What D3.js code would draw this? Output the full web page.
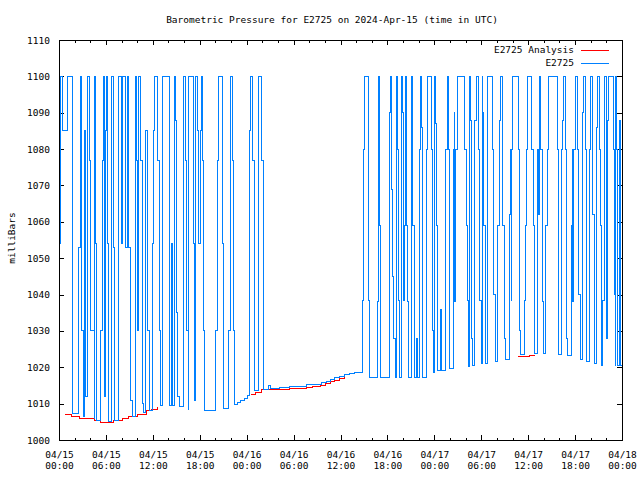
<!DOCTYPE html>
<html>
<head>
<meta charset="utf-8">
<script src="https://cdn.jsdelivr.net/npm/d3@7"></script>
<style>
  html, body { margin: 0; padding: 0; background: #fff; }
  svg { display: block; }
  text { font-family: "DejaVu Sans Mono", "Liberation Mono", monospace; font-size: 9.5px; fill: #000; }
</style>
</head>
<body>
<svg id="chart" width="640" height="480"></svg>
<script>
// ---------------- data (hours since 2024-04-15 00:00 UTC) ----------------
const seriesNames = ["E2725 Analysis", "E2725"];
const yTickValues = [1000, 1010, 1020, 1030, 1040, 1050, 1060, 1070, 1080, 1090, 1100, 1110];

const obsHours = [
  0.00, 0.04, 0.13, 0.43, 1.15, 1.71, 2.47, 2.69, 2.90, 3.07, 3.20, 3.41, 3.62, 3.96, 4.09, 4.48, 4.56, 4.69, 4.82,
  5.33, 5.54, 5.67, 5.80, 5.97, 6.05, 6.22, 6.39, 6.73, 6.95, 7.16, 7.59, 7.67, 7.93, 8.14, 8.53, 8.74, 8.95, 9.16,
  9.38, 9.72, 9.89, 10.06, 10.23, 10.44, 10.66, 10.87, 11.08, 11.30, 11.51, 11.94, 12.06, 12.23, 12.57, 12.79, 13.00,
  13.21, 14.07, 14.37, 14.49, 14.71, 14.92, 15.05, 15.17, 15.35, 15.90, 16.20, 16.33, 16.50, 16.62, 17.26, 17.39,
  17.48, 17.69, 17.90, 18.12, 18.24, 18.41, 18.54, 18.67, 20.03, 20.25, 20.38, 20.89, 21.10, 21.74, 21.95, 22.17,
  22.29, 22.46, 22.81, 23.23, 23.66, 24.08, 24.30, 24.42, 24.51, 24.72, 24.94, 25.06, 25.45, 25.92, 26.09,
  26.79, 27.11, 28.26, 29.54, 30.82, 31.71, 32.48, 33.63, 34.27, 34.78, 35.29, 35.81, 36.45, 37.21, 37.85,
  38.75, 38.92, 39.07, 39.52, 39.61, 39.68, 40.67, 40.84, 40.92, 41.01, 41.12, 42.27, 42.40, 42.55, 42.68, 42.84,
  42.97, 43.10, 43.18, 43.27, 43.39, 43.55, 43.76, 43.83, 43.93, 44.03, 44.16, 44.25, 44.38, 44.54, 44.67, 45.06,
  45.14, 45.27, 45.40, 45.66, 45.82, 46.10, 46.23, 46.33, 46.46, 46.55, 47.00, 47.13, 47.66, 47.77, 47.87, 48.00,
  48.12, 48.25, 48.37, 48.85, 48.98, 49.49, 49.62, 49.75, 49.88, 50.00, 50.39, 50.52, 50.64, 50.77, 50.90, 51.92,
  52.05, 52.18, 52.31, 52.47, 52.65, 52.75, 52.88, 53.20, 53.33, 53.71, 53.84, 53.97, 54.10, 54.22, 54.35, 54.48,
  54.74, 54.80, 55.50, 55.63, 55.76, 56.14, 56.27, 56.40, 56.66, 56.78, 56.91, 57.04, 57.55, 57.68, 57.81, 57.93,
  58.06, 58.70, 58.83, 58.96, 59.47, 59.60, 59.79, 59.92, 60.49, 60.62, 60.75, 61.13, 61.26, 61.39, 61.51, 61.64,
  61.77, 61.90, 62.28, 62.41, 62.54, 63.69, 63.82, 63.94, 64.20, 64.33, 64.46, 64.78, 64.90, 65.03, 65.48, 65.61,
  65.73, 65.86, 65.99, 66.37, 66.50, 66.63, 66.89, 67.01, 67.14, 67.27, 67.40, 67.78, 67.91, 68.17, 68.29, 68.42,
  68.68, 68.81, 69.12, 69.25, 69.38, 69.57, 69.70, 69.96, 70.08, 70.17, 70.28, 70.85, 70.98, 71.11, 71.17, 71.36,
  71.45, 71.68, 71.81, 72.00
];
const obsValues = [
  1007.4, 1054, 1100, 1085, 1100, 1007.2, 1053, 1100, 1030, 1006.5, 1085, 1012, 1100, 1077, 1030, 1005.8, 1100, 1054, 1005.5,
  1030, 1077, 1100, 1012, 1085, 1100, 1054, 1005, 1100, 1053, 1005.5, 1054, 1100, 1054, 1100, 1053, 1100, 1053, 1011,
  1006.5, 1100, 1077, 1030, 1100, 1077, 1010, 1007.5, 1085, 1030, 1008.2, 1054, 1085, 1100, 1077, 1030, 1009.5,
  1100, 1009.6, 1054, 1009.6, 1100, 1088, 1035, 1012, 1009.2, 1100, 1077, 1030, 1008.5, 1100, 1054, 1011,
  1100, 1085, 1054, 1085, 1100, 1077, 1030, 1008.1, 1030, 1077, 1100, 1054, 1008.7, 1030, 1100, 1077,
  1030, 1009.8, 1010.2, 1011, 1011.5, 1012.2, 1054, 1085, 1100, 1077, 1030, 1013.5, 1100, 1077, 1013.9,
  1015, 1014.3, 1014.5, 1014.6, 1014.8, 1015.2, 1015.4, 1015.7, 1016.2, 1016.6, 1017.1, 1017.6, 1018.0, 1018.4, 1018.5,
  1038.5, 1080, 1100, 1080, 1038.5, 1017.2, 1038, 1080, 1100, 1059, 1017.3, 1090, 1100, 1069, 1045, 1028,
  1017.2, 1080, 1100, 1080, 1038.5, 1017.2, 1080, 1100, 1090, 1038.5, 1059, 1100, 1059, 1038, 1017.2, 1087,
  1100, 1059, 1017.2, 1028, 1017.3, 1080, 1100, 1086, 1038.5, 1017.3, 1080, 1100, 1080, 1030, 1018.5, 1100,
  1087, 1059, 1019.2, 1036, 1019.2, 1080, 1100, 1080, 1059, 1019.6, 1080, 1090, 1038, 1080, 1100, 1080,
  1059, 1038.5, 1020.2, 1100, 1088, 1028, 1020.5, 1088, 1100, 1080, 1038.5, 1021, 1100, 1090, 1059, 1021.1,
  1080, 1100, 1080, 1040, 1021.5, 1059, 1088, 1100, 1088, 1059, 1028, 1022.2, 1062, 1080, 1038.5, 1080,
  1100, 1080, 1030, 1023.6, 1038.5, 1059, 1080, 1100, 1080, 1059, 1023.8, 1080, 1062, 1088, 1100, 1080,
  1038, 1023.8, 1059, 1080, 1100, 1080, 1038.5, 1023.6, 1080, 1088, 1100, 1080, 1028, 1023.2, 1059, 1080,
  1038, 1080, 1100, 1080, 1040, 1022.1, 1038, 1090, 1100, 1080, 1021.5, 1080, 1100, 1080, 1062, 1021,
  1086, 1100, 1080, 1059, 1020.5, 1038.5, 1100, 1080, 1028, 1088, 1100, 1080, 1040, 1020.5, 1100, 1080,
  1020.5, 1088, 1020.5, 1020.5
];

// analysis: null marks a gap
const anaHours = [
  0.77, 1.66, 2.56, 3.84, 4.48, 5.37, 6.14, 7.03, 8.06, 8.95, 9.98, 11.13, 11.89, 12.66, 12.70,
  24.55, 25.19, 25.96, 26.98, 28.26, 29.54, 30.82, 31.71, 32.48, 33.38, 34.02, 34.66, 35.29, 35.81, 36.57, 36.60,
  58.70, 60.23, 60.87
];
const anaValues = [
  1007.15, 1006.6, 1006.05, 1005.8, 1005.3, 1004.9, 1004.95, 1005.5, 1006.0, 1006.6, 1007.15, 1008.0, 1008.5, 1009.2, null,
  1012.4, 1013.0, 1013.8, 1014.0, 1014.0, 1014.1, 1014.2, 1014.4, 1014.6, 1015.0, 1015.5, 1016.0, 1016.5, 1016.8, 1017.2, null,
  1023.0, 1023.3, 1023.3
];

// ---------------- chart ----------------
const t0 = Date.UTC(2024, 3, 15, 0, 0);
const t1 = Date.UTC(2024, 3, 18, 0, 0);
const toDate = h => new Date(t0 + h * 3600e3);

const pL = 59, pR = 622, pT = 40, pB = 440;
const svg = d3.select("#chart");

const x = d3.scaleUtc().domain([new Date(t0), new Date(t1)]).range([pL, pR]);
const y = d3.scaleLinear().domain([1000, 1110]).range([pB, pT]);

const majorTicks = d3.utcHour.every(6).range(new Date(t0), new Date(t1 + 1));
const minorTicks = d3.utcHour.every(2).range(new Date(t0), new Date(t1 + 1));

const fmtDate = d3.utcFormat("%m/%d");
const fmtTime = d3.utcFormat("%H:%M");

// minor x ticks (bottom & top)
svg.append("g").attr("transform", `translate(0,${pB})`)
  .call(d3.axisBottom(x).tickValues(minorTicks).tickSize(-2.5).tickFormat(""))
  .call(g => g.select(".domain").remove());
svg.append("g").attr("transform", `translate(0,${pT})`)
  .call(d3.axisTop(x).tickValues(minorTicks).tickSize(-2.5).tickFormat(""))
  .call(g => g.select(".domain").remove());

// major x ticks
const xb = svg.append("g").attr("transform", `translate(0,${pB})`)
  .call(d3.axisBottom(x).tickValues(majorTicks).tickSize(-5).tickPadding(0).tickFormat(""))
  .call(g => g.select(".domain").remove());
xb.selectAll(".tick text").remove();
xb.selectAll(".tick").append("text")
  .attr("text-anchor", "middle")
  .each(function(d) {
    const t = d3.select(this);
    t.append("tspan").attr("x", 0).attr("y", 17.5).text(fmtDate(d));
    t.append("tspan").attr("x", 0).attr("y", 29).text(fmtTime(d));
  });
svg.append("g").attr("transform", `translate(0,${pT})`)
  .call(d3.axisTop(x).tickValues(majorTicks).tickSize(-5).tickFormat(""))
  .call(g => g.select(".domain").remove());

// y axes
svg.append("g").attr("transform", `translate(${pL},0)`)
  .call(d3.axisLeft(y).tickValues(yTickValues).tickSize(-5).tickPadding(9).tickFormat(d3.format("d")))
  .call(g => g.select(".domain").remove());
svg.append("g").attr("transform", `translate(${pR},0)`)
  .call(d3.axisRight(y).tickValues(yTickValues).tickSize(-5).tickFormat(""))
  .call(g => g.select(".domain").remove());

svg.selectAll(".tick line").attr("stroke", "#000").attr("shape-rendering", "crispEdges");
svg.selectAll("g").attr("font-family", null).attr("font-size", null);

// series
const line = d3.line()
  .defined(d => d.v !== null)
  .x(d => x(toDate(d.h)))
  .y(d => y(d.v))
  .curve(d3.curveStepAfter);

const anaData = anaHours.map((h, i) => ({ h, v: anaValues[i] }));
const obsData = obsHours.map((h, i) => ({ h, v: obsValues[i] }));

const colors = ["#ff0000", "#0080ff"];

svg.append("path").datum(anaData)
  .attr("d", line).attr("fill", "none").attr("stroke", colors[0])
  .attr("stroke-width", 1).attr("shape-rendering", "crispEdges");
svg.append("path").datum(obsData)
  .attr("d", line).attr("fill", "none").attr("stroke", colors[1])
  .attr("stroke-width", 1).attr("shape-rendering", "crispEdges");

// border
svg.append("rect")
  .attr("x", pL + 0.5).attr("y", pT + 0.5)
  .attr("width", pR - pL).attr("height", pB - pT)
  .attr("fill", "none").attr("stroke", "#000").attr("shape-rendering", "crispEdges");

// legend
seriesNames.forEach((name, i) => {
  const ly = 50 + i * 12.5;
  svg.append("text").attr("x", 574).attr("y", ly).attr("dy", "0.35em")
    .attr("text-anchor", "end").text(name);
  svg.append("line").attr("x1", 581).attr("x2", 609).attr("y1", ly + 0.5).attr("y2", ly + 0.5)
    .attr("stroke", colors[i]).attr("shape-rendering", "crispEdges");
});

// title and y label
svg.append("text").attr("x", 332).attr("y", 20).attr("dy", "0.35em")
  .attr("text-anchor", "middle")
  .text("Barometric Pressure for E2725 on 2024-Apr-15 (time in UTC)");
svg.append("text")
  .attr("transform", "translate(12,238) rotate(-90)")
  .attr("text-anchor", "middle").attr("dy", "0.35em")
  .text("milliBars");
</script>
</body>
</html>
